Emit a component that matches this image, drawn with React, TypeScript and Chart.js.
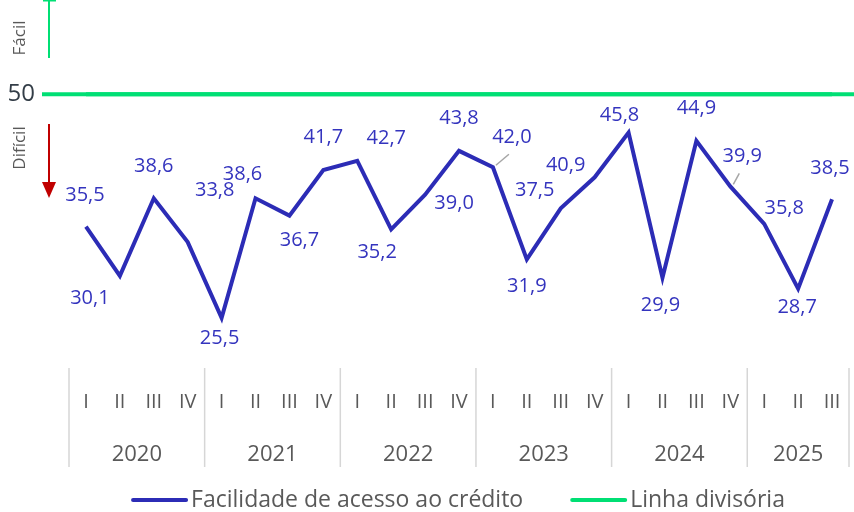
import React, { useEffect, useRef } from "react";
import { Chart, registerables } from "chart.js";

Chart.register(...registerables);

const quarters = ["I","II","III","IV","I","II","III","IV","I","II","III","IV","I","II","III","IV","I","II","III","IV","I","II","III"];
const years = ["2020","2021","2022","2023","2024","2025"];
const quartersPerYear = [4, 4, 4, 4, 4, 3];
const facilidade = [35.5,30.1,38.6,33.8,25.5,38.6,36.7,41.7,42.7,35.2,39.0,43.8,42.0,31.9,37.5,40.9,45.8,29.9,44.9,39.9,35.8,28.7,38.5];
const divisoria = quarters.map(() => 50);
const yTicks = [50];
const seriesNames = ["Facilidade de acesso ao crédito", "Linha divisória"];

// label placement (offsets of label centre from its point, in px) and leader-line flags
const labelOffsets: [number, number][] = [
  [-1,-31],[-30,22],[0,-32],[27,-52],[-2,20],[-13,-24],[10,25],[0,-33],[29,-23],[-14,23],[29,9],[0,-33],
  [19,-30],[0,27],[-26,-18],[-29,-12],[-9,-17],[-2,28],[0,-32],[12,-30],[20,-16],[-1,19],[-2,-31],
];
const leaderLines = [12, 19];

const BLUE = "#2c2cb6";
const LABEL_BLUE = "#3434be";
const GREEN = "#00df74";
const RED = "#c00000";
const GREY_TEXT = "#595959";
const FONT = "'Open Sans', 'Noto Sans', sans-serif";

export default function App() {
  const ref = useRef<HTMLCanvasElement | null>(null);
  useEffect(() => {
    const canvas = ref.current!;
    const extras = {
      id: "extras",
      beforeDatasetsDraw(chart: any) {
        const { ctx, chartArea, scales } = chart;
        const y50 = scales.y.getPixelForValue(50);
        ctx.save();
        // extended dividing line
        ctx.strokeStyle = GREEN;
        ctx.lineWidth = 4;
        ctx.beginPath();
        ctx.moveTo(42, y50);
        ctx.lineTo(chart.width, y50);
        ctx.stroke();
        // Fácil marker
        ctx.lineWidth = 2;
        ctx.beginPath();
        ctx.moveTo(49, 0);
        ctx.lineTo(49, 58);
        ctx.moveTo(43, 0.5);
        ctx.lineTo(56, 0.5);
        ctx.stroke();
        // Difícil arrow
        ctx.strokeStyle = RED;
        ctx.fillStyle = RED;
        ctx.beginPath();
        ctx.moveTo(49, 124);
        ctx.lineTo(49, 184);
        ctx.stroke();
        ctx.beginPath();
        ctx.moveTo(42, 182);
        ctx.lineTo(56, 182);
        ctx.lineTo(49, 198);
        ctx.closePath();
        ctx.fill();
        // rotated texts
        ctx.fillStyle = GREY_TEXT;
        ctx.font = `17px ${FONT}`;
        ctx.textAlign = "center";
        ctx.textBaseline = "middle";
        ctx.save();
        ctx.translate(20, 38);
        ctx.rotate(-Math.PI / 2);
        ctx.fillText("Fácil", 0, 0);
        ctx.restore();
        ctx.save();
        ctx.translate(20, 148);
        ctx.rotate(-Math.PI / 2);
        ctx.fillText("Difícil", 0, 0);
        ctx.restore();
        // year separators and labels
        const x = scales.x;
        ctx.strokeStyle = "#d6d6d6";
        ctx.lineWidth = 1.5;
        let idx = 0;
        const bounds: number[] = [chartArea.left];
        quartersPerYear.forEach((n, i) => {
          const last = x.getPixelForValue(idx + n - 1);
          const right = i === quartersPerYear.length - 1 ? chartArea.right : (last + x.getPixelForValue(idx + n)) / 2;
          bounds.push(right);
          ctx.fillStyle = GREY_TEXT;
          ctx.font = `22px ${FONT}`;
          ctx.fillText(years[i], (bounds[i] + right) / 2, 455);
          idx += n;
        });
        bounds.forEach((b) => {
          ctx.beginPath();
          ctx.moveTo(b, chartArea.bottom);
          ctx.lineTo(b, 467);
          ctx.stroke();
        });
        ctx.restore();
      },
      afterDatasetsDraw(chart: any) {
        const { ctx } = chart;
        const meta = chart.getDatasetMeta(0);
        ctx.save();
        ctx.font = `20px ${FONT}`;
        ctx.textAlign = "center";
        ctx.textBaseline = "middle";
        meta.data.forEach((pt: any, i: number) => {
          const [dx, dy] = labelOffsets[i];
          if (leaderLines.includes(i)) {
            ctx.strokeStyle = "#a6a6a6";
            ctx.lineWidth = 1.5;
            ctx.beginPath();
            ctx.moveTo(pt.x + 3, pt.y - 2);
            ctx.lineTo(pt.x + dx - 3, pt.y + dy + 17);
            ctx.stroke();
          }
          ctx.fillStyle = LABEL_BLUE;
          ctx.fillText(facilidade[i].toFixed(1).replace(".", ","), pt.x + dx, pt.y + dy);
        });
        // legend
        ctx.font = `23px ${FONT}`;
        const items = chart.data.datasets.map((d: any) => ({ label: d.label, color: d.borderColor }));
        const lineW = 53, gapText = 5, gapItems = 49;
        const widths = items.map((it: any) => lineW + gapText + ctx.measureText(it.label).width);
        const total = widths.reduce((a: number, b: number) => a + b, 0) + gapItems * (items.length - 1);
        let cx = (chart.chartArea.left + chart.chartArea.right) / 2 - total / 2;
        const ly = 500;
        ctx.textAlign = "left";
        items.forEach((it: any, i: number) => {
          ctx.strokeStyle = it.color;
          ctx.lineWidth = 4;
          ctx.lineCap = "round";
          ctx.beginPath();
          ctx.moveTo(cx, ly);
          ctx.lineTo(cx + lineW, ly);
          ctx.stroke();
          ctx.fillStyle = GREY_TEXT;
          ctx.fillText(it.label, cx + lineW + gapText, ly);
          cx += widths[i] + gapItems;
        });
        ctx.restore();
      },
    };
    const chart = new Chart(canvas, {
      type: "line",
      data: {
        labels: quarters,
        datasets: [
          { label: seriesNames[0], data: facilidade, borderColor: BLUE, backgroundColor: BLUE, borderWidth: 4, pointRadius: 0, tension: 0, borderJoinStyle: "miter" as any },
          { label: seriesNames[1], data: divisoria, borderColor: GREEN, backgroundColor: GREEN, borderWidth: 4, pointRadius: 0 },
        ],
      },
      options: {
        animation: false,
        responsive: false,
        maintainAspectRatio: false,
        layout: { padding: { top: 3, right: 5, left: 0, bottom: 0 } },
        plugins: { legend: { display: false }, tooltip: { enabled: false } },
        scales: {
          x: {
            offset: true,
            grid: { display: false, drawTicks: false },
            border: { display: false },
            ticks: { font: { size: 20, family: FONT }, color: GREY_TEXT, padding: 22, maxRotation: 0, autoSkip: false },
            afterFit: (s: any) => { s.height = 144; s.paddingLeft = 0; s.paddingRight = 0; },
          },
          y: {
            min: 20,
            max: 60,
            grid: { display: false, drawTicks: false },
            border: { display: false },
            afterBuildTicks: (s: any) => { s.ticks = yTicks.map((v) => ({ value: v })); },
            ticks: { font: { size: 24, family: FONT }, color: "#333d47", padding: 34 },
            afterFit: (s: any) => { s.width = 69; s.paddingTop = 0; s.paddingBottom = 0; },
          },
        },
      },
      plugins: [extras],
    });
    return () => chart.destroy();
  }, []);
  return (
    <div style={{ position: "fixed", left: 0, top: 0, width: 854, height: 512, background: "#fff" }}>
      <canvas ref={ref} width={854} height={512} style={{ width: 854, height: 512 }} />
    </div>
  );
}
